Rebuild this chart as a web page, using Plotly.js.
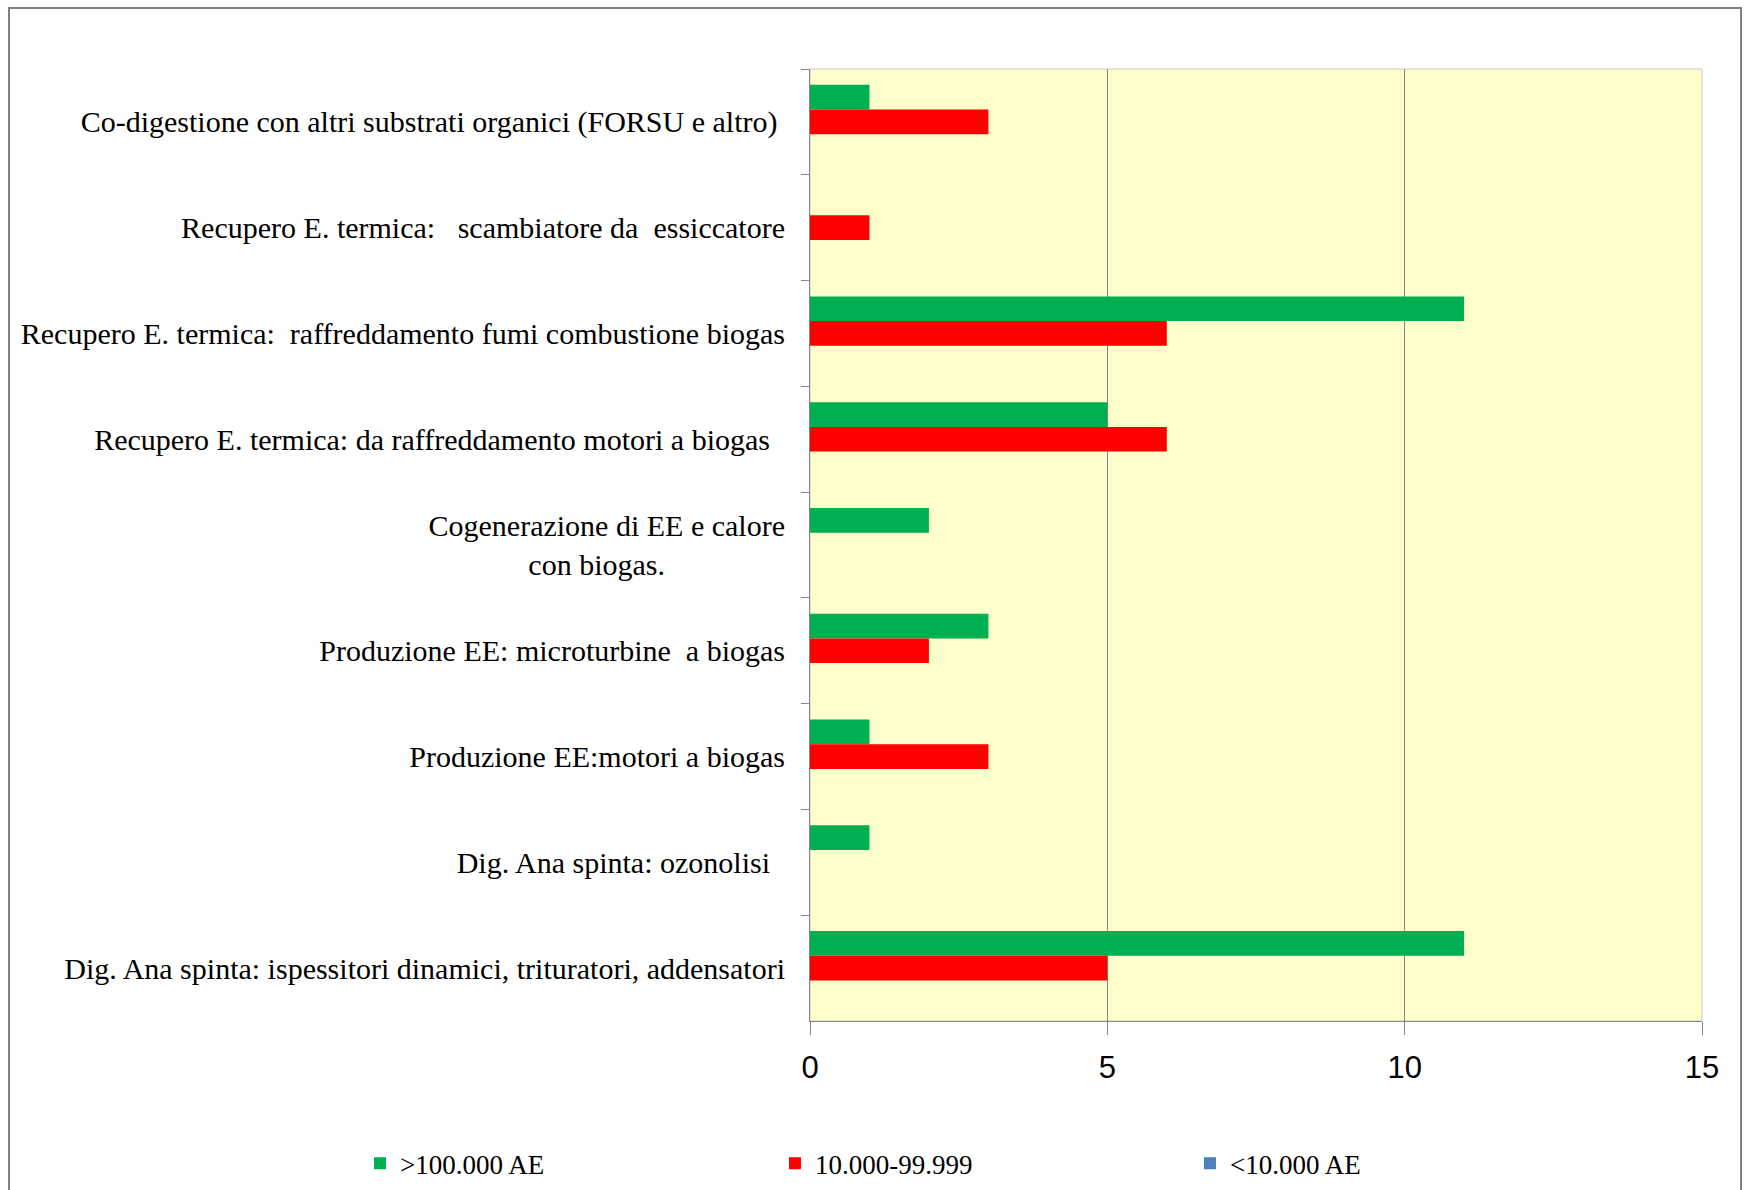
<!DOCTYPE html>
<html>
<head>
<meta charset="utf-8">
<script src="https://cdn.plot.ly/plotly-3.0.1.min.js"></script>
<style>
  html, body { margin: 0; padding: 0; background: #ffffff; }
  #chart { position: absolute; left: 0; top: 0; width: 1747px; height: 1190px; }
  #frame { position: absolute; left: 8px; top: 7px; width: 1734px; height: 1300px;
           border: 2px solid #808080; pointer-events: none; box-sizing: border-box; }
</style>
</head>
<body>
<div id="chart"></div>
<div id="frame"></div>
<script>
// Categories listed top to bottom as they appear in the chart
const categories = [
  "Co-digestione con altri substrati organici (FORSU e altro)\u00a0",
  "Recupero E. termica:\u00a0\u00a0 scambiatore da\u00a0 essiccatore",
  "Recupero E. termica:\u00a0 raffreddamento fumi combustione biogas",
  "Recupero E. termica: da raffreddamento motori a biogas\u00a0\u00a0",
  "Cogenerazione di EE e calore<br>con biogas.\u00a0\u00a0\u00a0\u00a0\u00a0\u00a0\u00a0\u00a0\u00a0\u00a0\u00a0\u00a0\u00a0\u00a0\u00a0\u00a0",
  "Produzione EE: microturbine\u00a0 a biogas",
  "Produzione EE:motori a biogas",
  "Dig. Ana spinta: ozonolisi\u00a0\u00a0",
  "Dig. Ana spinta: ispessitori dinamici, trituratori, addensatori"
];
const seriesNames = [">100.000 AE", "10.000-99.999", "<10.000 AE"];
const over100k   = [1, 0, 11, 5, 2, 3, 1, 1, 11];
const from10k    = [3, 1, 6, 6, 0, 2, 3, 0, 5];
const under10k   = [0, 0, 0, 0, 0, 0, 0, 0, 0];
const xTicks = [0, 5, 10, 15];

const colors = ["#00B050", "#FF0000", "#4F81BD"];
const serif = "'Liberation Serif', 'Times New Roman', serif";

const traces = [over100k, from10k, under10k].map((vals, i) => ({
  type: "bar",
  orientation: "h",
  name: seriesNames[i],
  x: vals,
  y: categories,
  marker: { color: colors[i], line: { width: 0 } },
  hoverinfo: "x+name"
}));

const layout = {
  width: 1747,
  height: 1190,
  paper_bgcolor: "#ffffff",
  plot_bgcolor: "#FFFFCC",
  margin: { l: 810, r: 45, t: 69, b: 169, pad: 0, autoexpand: false },
  barmode: "group",
  bargap: 0.3,
  bargroupgap: 0,
  showlegend: true,
  legend: {
    orientation: "h",
    xref: "paper", yref: "paper",
    x: -0.5045, xanchor: "left",
    y: -0.150, yanchor: "middle",
    font: { family: serif, size: 27, color: "#000000" },
    entrywidth: 370, entrywidthmode: "pixels",
    itemwidth: 30,
    traceorder: "normal",
    bgcolor: "rgba(0,0,0,0)"
  },
  xaxis: {
    range: [0, 15],
    tickvals: xTicks,
    ticktext: xTicks.map(String),
    showgrid: true,
    gridcolor: "#868686",
    gridwidth: 1,
    zeroline: false,
    showline: true,
    linecolor: "#868686",
    linewidth: 1,
    ticks: "outside",
    ticklen: 13,
    tickcolor: "#868686",
    tickfont: { family: "'Liberation Sans Narrow', 'Arial Narrow', 'Liberation Sans', sans-serif", size: 31, color: "#000000" },
    ticklabelstandoff: 6,
    fixedrange: true
  },
  yaxis: {
    type: "category",
    autorange: "reversed",
    tickson: "boundaries",
    ticks: "outside",
    ticklen: 8,
    tickcolor: "#868686",
    showline: true,
    linecolor: "#868686",
    linewidth: 1,
    showgrid: false,
    zeroline: false,
    tickfont: { family: serif, size: 30, color: "#000000" },
    ticklabelstandoff: 18,
    fixedrange: true
  },
  shapes: [{
    type: "rect", xref: "paper", yref: "paper",
    x0: 0, x1: 1, y0: 0, y1: 1,
    line: { color: "#C8C8C8", width: 1 },
    layer: "below"
  }]
};

Plotly.newPlot("chart", traces, layout, { displayModeBar: false, staticPlot: true });
</script>
</body>
</html>
